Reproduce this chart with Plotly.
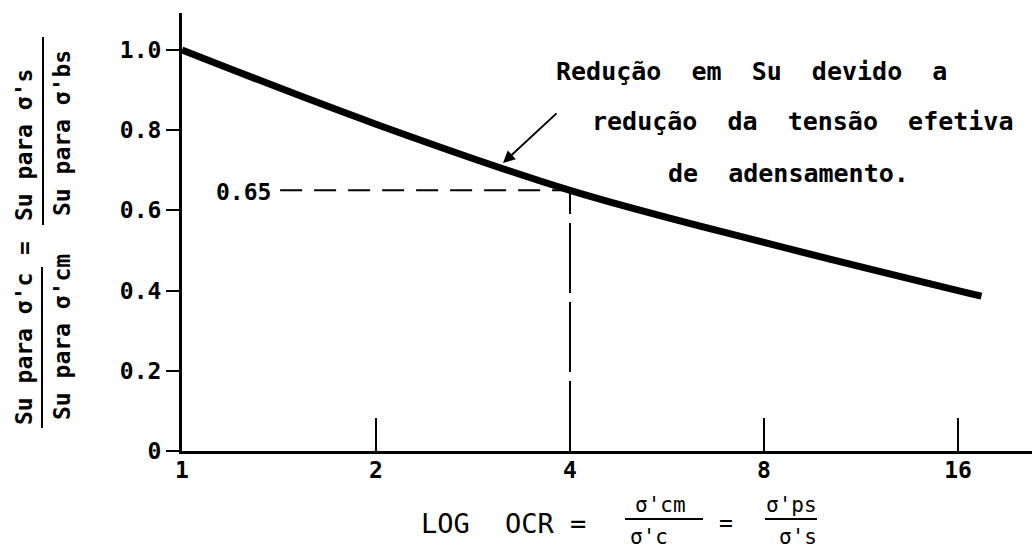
import numpy as np
import plotly.graph_objects as go

# Curve: strength ratio versus overconsolidation ratio (log scale)
ocr = [1, 2, 4, 8, 16, 17.4]
su_ratio = [1.00, 0.815, 0.65, 0.52, 0.40, 0.386]

# Reference reading on the curve
ref_ocr = 4
ref_value = 0.65
ref_label = "0.65"
dash_start_ocr = 1.42

# Axis ticks
x_ticks = [1, 2, 4, 8, 16]
x_tick_text = ["1", "2", "4", "8", "16"]
y_ticks = [0, 0.2, 0.4, 0.6, 0.8, 1.0]
y_tick_text = ["0", "0.2", "0.4", "0.6", "0.8", "1.0"]

note_lines = [
    "Redução  em  Su  devido  a",
    "redução  da  tensão  efetiva",
    "de  adensamento.",
]

FONT = "DejaVu Sans Mono"
W, H = 1034, 556
L, R, T, B = 182, 2, 13, 105
PW, PH = W - L - R, H - T - B


def px(x):
    return (x - L) / PW


def py(y):
    return (H - B - y) / PH


fig = go.Figure()

fig.add_trace(go.Scatter(
    x=ocr, y=su_ratio, mode="lines",
    line=dict(color="black", width=7, shape="spline", smoothing=1.0),
    hoverinfo="skip", showlegend=False,
))

# Dashed guide lines to the 0.65 reading
fig.add_trace(go.Scatter(
    x=[dash_start_ocr, ref_ocr], y=[ref_value, ref_value], mode="lines",
    line=dict(color="black", width=2, dash="22px,12px"),
    hoverinfo="skip", showlegend=False,
))
fig.add_trace(go.Scatter(
    x=[ref_ocr, ref_ocr], y=[0, ref_value], mode="lines",
    line=dict(color="black", width=2, dash="70px,9px"),
    hoverinfo="skip", showlegend=False,
))

ann = []


def text(s, x, y, size, angle=0, xanchor="center", weight="bold"):
    ann.append(dict(
        text=s, x=px(x), y=py(y), xref="paper", yref="paper",
        showarrow=False, textangle=angle, xanchor=xanchor, yanchor="middle",
        font=dict(family=FONT, size=size, color="black", weight=weight),
    ))


# reference value label
text(ref_label, 273, 192, 23, xanchor="right")

# note text and its arrow
text(note_lines[0], 751, 71, 25)
text(note_lines[1], 802, 121, 25)
text(note_lines[2], 788, 174, 25)
ann.append(dict(
    x=px(503), y=py(163), xref="paper", yref="paper", text="",
    showarrow=True, ax=55, ay=-51, arrowhead=2, arrowsize=1.2,
    arrowwidth=2, arrowcolor="black", standoff=0,
))

# y-axis title (two stacked ratios, rotated)
text("Su para σ'c", 24, 349, 23, angle=-90)
text("Su para σ'cm", 62, 337, 23, angle=-90)
text("=", 24, 248, 23, angle=-90)
text("Su para σ's", 24, 145, 23, angle=-90)
text("Su para σ'bs", 62, 133, 23, angle=-90)

# x-axis title
text("LOG", 445, 523, 27, weight="normal")
text("OCR =", 545, 523, 27, weight="normal")
text("σ'cm", 660, 505, 21, weight="normal")
text("σ'c", 649, 537, 21, weight="normal")
text("=", 726, 523, 23, weight="normal")
text("σ'ps", 791, 505, 21, weight="normal")
text("σ's", 798, 537, 21, weight="normal")

shapes = []
for x0, x1, y0, y1 in [(42, 42, 267, 428), (43, 43, 37, 225),
                       (625, 703, 519, 519), (765, 817, 519, 519)]:
    shapes.append(dict(type="line", xref="paper", yref="paper",
                       x0=px(x0), x1=px(x1), y0=py(y0), y1=py(y1),
                       line=dict(color="black", width=2)))

tick_font = dict(family=FONT, size=23, color="black", weight="bold")

fig.update_layout(
    width=W, height=H,
    margin=dict(l=L, r=R, t=T, b=B),
    paper_bgcolor="white", plot_bgcolor="white",
    annotations=ann, shapes=shapes,
    font=dict(family=FONT, color="black"),
)

fig.update_xaxes(
    type="log", range=[0, np.log10(2 ** (PW / 194))],
    tickvals=x_ticks, ticktext=x_tick_text,
    ticks="inside", ticklen=33, tickwidth=2, tickcolor="black",
    tickfont=tick_font, ticklabelstandoff=-4,
    showline=True, linecolor="black", linewidth=3,
    showgrid=False, zeroline=False,
)
fig.update_yaxes(
    range=[0, PH / 401], tickvals=y_ticks, ticktext=y_tick_text,
    ticks="outside", ticklen=13, tickwidth=2, tickcolor="black",
    tickfont=tick_font,
    showline=True, linecolor="black", linewidth=3,
    showgrid=False, zeroline=False,
)

fig.write_html("out.html")
